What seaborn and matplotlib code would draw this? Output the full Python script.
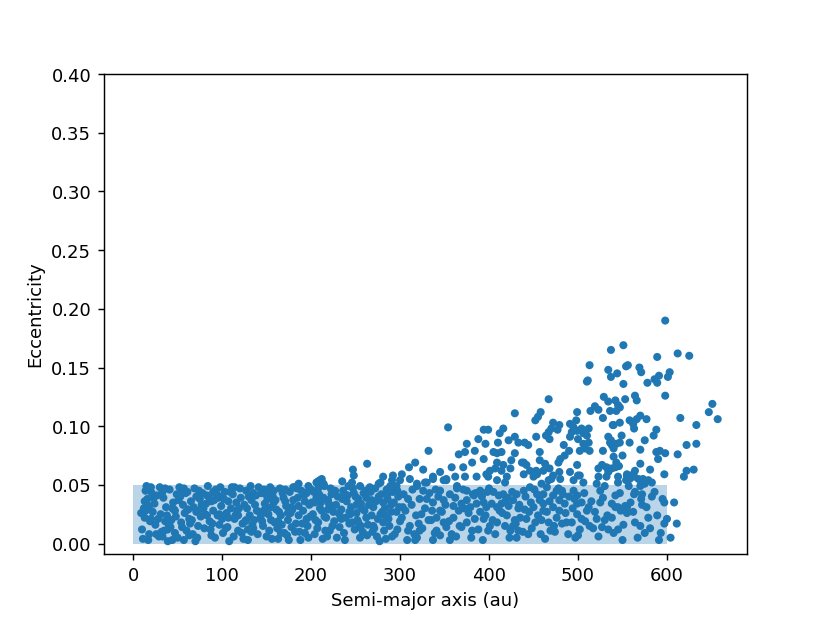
import pandas as pd
import matplotlib
matplotlib.use('Agg')
import matplotlib.pyplot as plt
import seaborn as sns

# Dense band of orbits, a < 300 au
a_inner = [
    10, 12, 14, 11, 13, 16, 18, 20, 22, 25,
    27, 29, 24, 19, 15, 31, 33, 35, 37, 39,
    41, 43, 45, 47, 49, 42, 38, 34, 46, 50,
    52, 54, 56, 58, 60, 53, 57, 61, 63, 65,
    67, 69, 71, 73, 75, 68, 72, 76, 78, 80,
    82, 84, 86, 88, 90, 83, 87, 91, 93, 95,
    97, 99, 101, 103, 105, 98, 102, 106, 108, 110,
    112, 114, 116, 118, 120, 113, 117, 121, 123, 125,
    127, 129, 131, 133, 135, 128, 132, 136, 138, 140,
    142, 144, 146, 148, 150, 143, 147, 151, 153, 155,
    157, 159, 161, 163, 165, 158, 162, 166, 168, 170,
    172, 174, 176, 178, 180, 173, 177, 181, 183, 185,
    187, 189, 191, 193, 195, 188, 192, 196, 198, 200,
    202, 204, 206, 208, 210, 203, 207, 211, 213, 215,
    217, 219, 221, 223, 225, 218, 222, 226, 228, 230,
    232, 234, 236, 238, 240, 233, 237, 241, 243, 245,
    247, 249, 251, 253, 255, 248, 252, 256, 258, 260,
    262, 264, 266, 268, 270, 263, 267, 271, 273, 275,
    277, 279, 281, 283, 285, 278, 282, 286, 288, 290,
    292, 294, 296, 298, 300, 293, 297, 289, 284, 276,
    9, 17, 23, 28, 32, 36, 40, 44, 48, 51,
    55, 59, 62, 66, 70, 74, 77, 81, 85, 89,
    92, 96, 100, 104, 107, 111, 115, 119, 122, 126,
    130, 134, 137, 141, 145, 149, 152, 156, 160, 164,
    167, 171, 175, 179, 182, 186, 190, 194, 197, 201,
    205, 209, 212, 216, 220, 224, 227, 231, 235, 239,
    242, 246, 250, 254, 257, 261, 265, 269, 272, 280,
    287, 291, 295, 299, 14, 21, 26, 44, 63, 79,
    94, 109, 124, 139, 154, 169, 184, 199, 214, 229,
    244, 259, 274, 18, 36, 57, 73, 88, 118, 133,
    148, 163, 178, 193, 208, 223, 238, 253, 268, 283,
    13, 20, 30, 39, 47, 56, 64, 71, 83, 90,
    99, 107, 114, 127, 135, 146, 155, 166, 174, 186,
    195, 204, 215, 226, 234, 243, 251, 262, 270, 281,
    290, 297, 33, 61, 97, 129, 171, 219, 256, 286,
]
e_inner = [
    0.012, 0.030, 0.045, 0.004, 0.022, 0.038, 0.008, 0.048, 0.027, 0.016,
    0.041, 0.006, 0.034, 0.019, 0.049, 0.025, 0.044, 0.011, 0.031, 0.002,
    0.046, 0.020, 0.035, 0.009, 0.042, 0.014, 0.024, 0.039, 0.029, 0.005,
    0.048, 0.018, 0.033, 0.026, 0.011, 0.040, 0.003, 0.044, 0.021, 0.036,
    0.008, 0.047, 0.027, 0.015, 0.038, 0.031, 0.005, 0.023, 0.043, 0.013,
    0.034, 0.049, 0.019, 0.007, 0.028, 0.041, 0.012, 0.037, 0.046, 0.024,
    0.016, 0.032, 0.009, 0.044, 0.026, 0.048, 0.038, 0.014, 0.002, 0.030,
    0.042, 0.021, 0.035, 0.011, 0.047, 0.006, 0.028, 0.039, 0.017, 0.033,
    0.045, 0.003, 0.024, 0.037, 0.013, 0.030, 0.049, 0.020, 0.041, 0.008,
    0.027, 0.043, 0.015, 0.034, 0.006, 0.022, 0.046, 0.038, 0.011, 0.031,
    0.040, 0.018, 0.029, 0.004, 0.047, 0.035, 0.013, 0.024, 0.043, 0.009,
    0.032, 0.020, 0.044, 0.014, 0.037, 0.007, 0.026, 0.048, 0.017, 0.039,
    0.010, 0.045, 0.028, 0.036, 0.021, 0.003, 0.041, 0.015, 0.033, 0.046,
    0.025, 0.008, 0.039, 0.018, 0.030, 0.044, 0.013, 0.035, 0.004, 0.049,
    0.022, 0.037, 0.011, 0.042, 0.027, 0.006, 0.047, 0.019, 0.033, 0.040,
    0.014, 0.029, 0.045, 0.003, 0.036, 0.023, 0.009, 0.041, 0.017, 0.031,
    0.047, 0.012, 0.026, 0.038, 0.005, 0.043, 0.020, 0.034, 0.010, 0.028,
    0.039, 0.016, 0.048, 0.024, 0.031, 0.007, 0.044, 0.013, 0.036, 0.021,
    0.002, 0.042, 0.018, 0.030, 0.046, 0.025, 0.011, 0.038, 0.015, 0.033,
    0.044, 0.008, 0.027, 0.040, 0.019, 0.035, 0.012, 0.049, 0.004, 0.040,
    0.026, 0.003, 0.039, 0.021, 0.010, 0.047, 0.016, 0.030, 0.023, 0.037,
    0.014, 0.043, 0.029, 0.020, 0.002, 0.045, 0.033, 0.025, 0.040, 0.017,
    0.005, 0.039, 0.021, 0.013, 0.036, 0.048, 0.024, 0.030, 0.009, 0.019,
    0.040, 0.016, 0.033, 0.048, 0.019, 0.042, 0.025, 0.004, 0.037, 0.027,
    0.016, 0.046, 0.003, 0.029, 0.010, 0.024, 0.017, 0.043, 0.005, 0.035,
    0.020, 0.042, 0.028, 0.011, 0.034, 0.015, 0.045, 0.026, 0.038, 0.022,
    0.049, 0.018, 0.040, 0.014, 0.030, 0.045, 0.033, 0.010, 0.047, 0.027,
    0.021, 0.006, 0.048, 0.031, 0.028, 0.043, 0.008, 0.003, 0.007, 0.030,
    0.042, 0.044, 0.004, 0.028, 0.044, 0.039, 0.047, 0.023, 0.039, 0.005,
    0.025, 0.043, 0.006, 0.032, 0.019, 0.047, 0.028, 0.036, 0.024, 0.010,
    0.029, 0.019, 0.031, 0.009, 0.047, 0.032, 0.042, 0.018, 0.037, 0.024,
    0.036, 0.021, 0.048, 0.012, 0.028, 0.044, 0.017, 0.040, 0.024, 0.044,
    0.040, 0.022, 0.048, 0.020, 0.043, 0.026, 0.020, 0.009, 0.026, 0.032,
    0.043, 0.035, 0.023, 0.044, 0.021, 0.027, 0.033, 0.022, 0.015, 0.035,
    0.027, 0.045, 0.006, 0.029, 0.025, 0.012, 0.036, 0.029, 0.015, 0.042,
]

# Band orbits, 300 - 460 au
a_mid = [
    304, 309, 306, 302, 311, 309, 321, 319, 317, 326,
    330, 328, 337, 336, 341, 345, 349, 352, 341, 345,
    356, 360, 366, 369, 375, 382, 386, 394, 390, 397,
    403, 409, 414, 422, 427, 431, 439, 446, 454, 457,
    450, 461, 412, 420, 429, 435, 442, 452, 433, 431,
    444, 399, 401, 381, 375, 369, 337, 308, 322, 356,
    364, 345, 405, 416, 375, 390, 349, 360, 379, 433,
    394, 384, 409, 418, 424, 324, 332, 322,
    303, 314, 318, 325, 333, 339, 343, 347, 351, 355,
    358, 362, 367, 371, 377, 380, 385, 388, 392, 396,
    400, 404, 407, 411, 415, 419, 423, 426, 430, 434,
    438, 441, 445, 448, 451, 455, 458, 313, 335, 363,
    383, 398, 427, 447, 316, 340, 372, 393, 421, 440,
]
e_mid = [
    0.042, 0.038, 0.028, 0.022, 0.015, 0.011, 0.017, 0.005, 0.003, 0.045,
    0.038, 0.030, 0.035, 0.028, 0.022, 0.028, 0.018, 0.014, 0.011, 0.007,
    0.003, 0.022, 0.028, 0.034, 0.037, 0.042, 0.034, 0.035, 0.027, 0.031,
    0.034, 0.031, 0.034, 0.032, 0.037, 0.042, 0.045, 0.048, 0.042, 0.037,
    0.031, 0.028, 0.028, 0.024, 0.020, 0.022, 0.021, 0.018, 0.011, 0.005,
    0.008, 0.011, 0.015, 0.011, 0.018, 0.014, 0.003, 0.003, 0.038, 0.042,
    0.047, 0.045, 0.044, 0.042, 0.045, 0.045, 0.037, 0.032, 0.031, 0.030,
    0.021, 0.021, 0.018, 0.015, 0.011, 0.025, 0.020, 0.011,
    0.031, 0.046, 0.024, 0.013, 0.043, 0.009, 0.040, 0.027, 0.033, 0.019,
    0.008, 0.039, 0.015, 0.046, 0.026, 0.005, 0.043, 0.012, 0.040, 0.024,
    0.047, 0.020, 0.008, 0.041, 0.026, 0.037, 0.005, 0.044, 0.017, 0.033,
    0.010, 0.040, 0.027, 0.013, 0.046, 0.024, 0.008, 0.033, 0.020, 0.006,
    0.041, 0.044, 0.015, 0.035, 0.008, 0.046, 0.030, 0.003, 0.039, 0.029,
]

# Band orbits, 460 - 612 au
a_outer = [
    611, 604, 591, 597, 579, 570, 575, 564, 545, 534,
    538, 530, 548, 555, 555, 538, 525, 542, 521, 513,
    517, 504, 510, 512, 499, 493, 487, 482, 497, 500,
    469, 474, 459, 467, 465, 476, 461, 472, 479, 485,
    496, 499, 504, 479, 483, 472, 461, 465, 476, 482,
    495, 499, 525, 530, 557, 564, 583, 597, 608, 595,
    571, 545, 542, 563, 572, 571, 572, 553, 545,
    463, 468, 473, 478, 486, 490, 494, 502, 507, 515,
    519, 523, 528, 533, 540, 547, 551, 559, 562, 567,
    577, 581, 586, 589, 593, 600, 489, 508, 527, 550,
]
e_outer = [
    0.017, 0.005, 0.003, 0.017, 0.022, 0.015, 0.009, 0.018, 0.012, 0.012,
    0.022, 0.020, 0.028, 0.031, 0.026, 0.034, 0.035, 0.031, 0.021, 0.015,
    0.013, 0.021, 0.028, 0.031, 0.025, 0.018, 0.018, 0.017, 0.005, 0.007,
    0.011, 0.010, 0.020, 0.018, 0.027, 0.022, 0.034, 0.031, 0.028, 0.034,
    0.038, 0.034, 0.035, 0.037, 0.042, 0.041, 0.042, 0.048, 0.045, 0.045,
    0.045, 0.041, 0.045, 0.049, 0.049, 0.044, 0.040, 0.035, 0.035, 0.038,
    0.050, 0.052, 0.041, 0.042, 0.042, 0.038, 0.033, 0.032, 0.031,
    0.004, 0.036, 0.015, 0.047, 0.026, 0.040, 0.030, 0.012, 0.043, 0.036,
    0.027, 0.006, 0.039, 0.024, 0.009, 0.043, 0.016, 0.035, 0.027, 0.005,
    0.031, 0.013, 0.044, 0.024, 0.009, 0.021, 0.008, 0.019, 0.014, 0.003,
]

# Orbits excited above the band
a_high = [
    598, 551, 537, 513, 612, 625, 589, 534, 544, 554,
    556, 569, 571, 511, 537, 551, 578, 586, 591, 589,
    603, 601,
    651, 647, 657, 615, 633, 598, 622, 633, 612, 630,
    622, 619, 598, 592, 588, 590, 585, 588, 575, 570,
    570, 581, 558, 549, 547, 538, 550, 543, 546, 542,
    538, 555, 554, 564, 563, 573, 579, 583, 575, 542,
    553, 564, 566, 547, 543, 536, 570, 566, 562, 563,
    577, 558, 540, 547, 537, 540,
    510, 467, 529, 534, 545, 519, 514, 523, 499, 429,
    458, 455, 452, 528, 539, 472, 479, 477, 470, 467,
    464, 468, 491, 498, 495, 499, 493, 491, 504, 506,
    512, 510, 500, 506, 512, 508, 502, 513, 534, 536,
    543, 528, 540, 534, 523,
    453, 457, 457, 463, 468, 461, 454, 450,
    484, 490, 485, 480, 478, 499, 491, 480, 470, 500,
    394, 399, 388, 384, 394, 381, 396, 412, 416, 410,
    422, 429, 433, 440, 444, 429, 439, 442, 446, 425,
    424, 416, 414, 409, 405, 407, 401, 399, 420, 439,
    354, 332, 375, 373, 366, 371, 373, 358, 345, 349,
    326, 317, 310, 263, 247, 248, 235, 246, 255, 278,
    281, 292, 291, 300, 296, 319, 330, 337, 352, 364,
    210, 214, 206, 186, 197, 180,
    459, 467, 472, 479, 495, 502, 506, 521, 532, 570,
    597, 523, 527, 532, 534, 545, 555, 558, 562, 568,
    409, 414, 437, 453, 337, 352, 362, 386, 397, 409,
    418, 302, 311, 328, 319,
    212, 208, 276, 154, 158,
]
e_high = [
    0.190, 0.169, 0.165, 0.152, 0.162, 0.160, 0.159, 0.148, 0.145, 0.151,
    0.152, 0.150, 0.146, 0.139, 0.142, 0.136, 0.137, 0.140, 0.143, 0.137,
    0.146, 0.142,
    0.119, 0.112, 0.106, 0.107, 0.101, 0.126, 0.084, 0.085, 0.076, 0.063,
    0.062, 0.057, 0.077, 0.079, 0.078, 0.072, 0.092, 0.097, 0.088, 0.080,
    0.068, 0.063, 0.086, 0.092, 0.086, 0.084, 0.075, 0.069, 0.066, 0.065,
    0.064, 0.058, 0.054, 0.062, 0.057, 0.055, 0.054, 0.052, 0.051, 0.122,
    0.123, 0.126, 0.122, 0.116, 0.113, 0.113, 0.109, 0.106, 0.102, 0.098,
    0.106, 0.105, 0.101, 0.103, 0.088, 0.081,
    0.138, 0.123, 0.125, 0.121, 0.118, 0.117, 0.113, 0.114, 0.112, 0.111,
    0.112, 0.108, 0.105, 0.107, 0.101, 0.103, 0.101, 0.097, 0.098, 0.095,
    0.092, 0.089, 0.102, 0.105, 0.099, 0.096, 0.095, 0.091, 0.098, 0.094,
    0.098, 0.092, 0.089, 0.085, 0.086, 0.081, 0.079, 0.079, 0.091, 0.086,
    0.085, 0.079, 0.074, 0.064, 0.064,
    0.091, 0.078, 0.071, 0.068, 0.064, 0.062, 0.059, 0.057,
    0.084, 0.079, 0.075, 0.072, 0.069, 0.067, 0.061, 0.055, 0.055, 0.058,
    0.097, 0.097, 0.089, 0.079, 0.072, 0.069, 0.085, 0.094, 0.098, 0.086,
    0.088, 0.091, 0.086, 0.086, 0.084, 0.077, 0.069, 0.067, 0.062, 0.071,
    0.064, 0.067, 0.062, 0.069, 0.078, 0.064, 0.062, 0.057, 0.057, 0.059,
    0.099, 0.079, 0.085, 0.078, 0.076, 0.065, 0.057, 0.065, 0.061, 0.054,
    0.063, 0.069, 0.065, 0.068, 0.063, 0.058, 0.053, 0.052, 0.049, 0.052,
    0.057, 0.058, 0.054, 0.054, 0.049, 0.049, 0.052, 0.055, 0.054, 0.049,
    0.054, 0.051, 0.052, 0.051, 0.049, 0.048,
    0.051, 0.054, 0.058, 0.061, 0.054, 0.058, 0.052, 0.051, 0.057, 0.049,
    0.059, 0.057, 0.067, 0.065, 0.061, 0.057, 0.059, 0.055, 0.059, 0.055,
    0.077, 0.078, 0.069, 0.062, 0.057, 0.055, 0.057, 0.057, 0.059, 0.054,
    0.052, 0.059, 0.055, 0.052, 0.051,
    0.055, 0.053, 0.051, 0.048, 0.045,
]

# initial disc region (shaded)
band_a = [0, 600]
band_e = 0.05

orbits = pd.concat([
    pd.DataFrame({'a': a_inner, 'e': e_inner}),
    pd.DataFrame({'a': a_mid, 'e': e_mid}),
    pd.DataFrame({'a': a_outer, 'e': e_outer}),
    pd.DataFrame({'a': a_high, 'e': e_high}),
], ignore_index=True)

fig, ax = plt.subplots(figsize=(6.4, 4.8), dpi=129.7)

ax.fill_between(band_a, 0, band_e, color='C0', alpha=0.3, linewidth=0, zorder=1)
sns.scatterplot(data=orbits, x='a', y='e', color='C0', s=20, linewidth=0,
                edgecolor='none', ax=ax, zorder=2)

ax.set_xlim(-33, 690)
ax.set_ylim(-0.0085, 0.40)
ax.set_yticks([0.0, 0.05, 0.10, 0.15, 0.20, 0.25, 0.30, 0.35, 0.40])
ax.set_yticklabels(['0.00', '0.05', '0.10', '0.15', '0.20', '0.25', '0.30', '0.35', '0.40'])
ax.set_xlabel('Semi-major axis (au)')
ax.set_ylabel('Eccentricity')

fig.savefig('out.png', dpi=129.7)
